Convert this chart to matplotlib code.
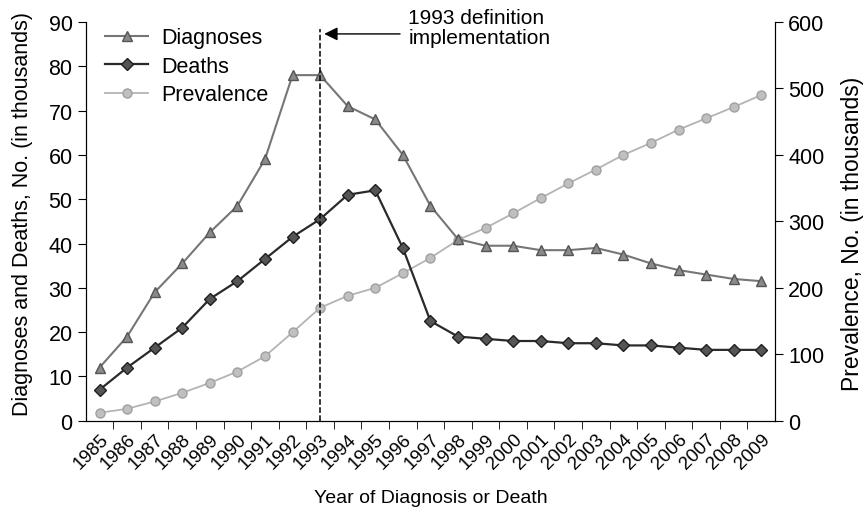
import matplotlib
matplotlib.use("Agg")
import matplotlib.pyplot as plt
from matplotlib.transforms import ScaledTranslation

plt.rcParams['font.family'] = ['Liberation Sans', 'DejaVu Sans']

years = list(range(1985, 2010))
diagnoses = [12, 19, 29, 35.5, 42.5, 48.5, 59, 78, 78, 71, 68, 60, 48.5, 41,
             39.5, 39.5, 38.5, 38.5, 39, 37.5, 35.5, 34, 33, 32, 31.5]
deaths = [7, 12, 16.5, 21, 27.5, 31.5, 36.5, 41.5, 45.5, 51, 52, 39, 22.5, 19,
          18.5, 18, 18, 17.5, 17.5, 17, 17, 16.5, 16, 16, 16]
prevalence = [12, 18, 29, 42, 57, 74, 97, 133, 170, 188, 200, 222, 245, 272,
              290, 312, 335, 357, 378, 400, 418, 438, 455, 472, 490]

fig = plt.figure(figsize=(8.66, 5.10), dpi=100)
ax = fig.add_axes([0.099, 0.173, 0.796, 0.782])
ax2 = ax.twinx()

# prevalence on the right axis, drawn behind
l3, = ax2.plot(years, prevalence, '-o', color='#b4b4b4', markersize=6.5,
               markerfacecolor='#c0c0c0', markeredgecolor='#a0a0a0', lw=1.3,
               label='Prevalence')
l1, = ax.plot(years, diagnoses, '-^', color='#767676', markersize=7.5,
              markerfacecolor='#8a8a8a', markeredgecolor='#555555', lw=1.5,
              label='Diagnoses')
l2, = ax.plot(years, deaths, '-D', color='#2a2a2a', markersize=6,
              markerfacecolor='#555555', markeredgecolor='#202020', lw=1.6,
              label='Deaths')
ax.set_zorder(ax2.get_zorder() + 1)
ax.patch.set_visible(False)

ax.set_xlim(1984.5, 2009.5)
ax.set_ylim(0, 90)
ax2.set_ylim(0, 600)
ax.set_yticks(range(0, 91, 10))
ax2.set_yticks(range(0, 601, 100))

ax.set_xticks(years)
ax.set_xticklabels([str(y) for y in years], rotation=45, ha='right',
                   rotation_mode='anchor', fontsize=13.5)
shift = ScaledTranslation(-6 / 100, 0, fig.dpi_scale_trans)
for lab in ax.get_xticklabels():
    lab.set_transform(lab.get_transform() + shift)
ax.set_xticks([y + 0.5 for y in years[:-1]], minor=True)
ax.tick_params(axis='x', which='major', length=0, pad=7)
ax.tick_params(axis='x', which='minor', length=6, direction='out')
ax.tick_params(axis='y', labelsize=15.5, length=6)
ax2.tick_params(axis='y', labelsize=15.5, length=6)

for a in (ax, ax2):
    a.spines['top'].set_visible(False)

ax.set_xlabel('Year of Diagnosis or Death', fontsize=14, labelpad=12)
ax.set_ylabel('Diagnoses and Deaths, No. (in thousands)', fontsize=15.5)
ax.yaxis.set_label_coords(-0.077, 0.52)
ax2.set_ylabel('Prevalence, No. (in thousands)', fontsize=16.5)
ax2.yaxis.set_label_coords(1.096, 0.47)

# 1993 definition line and note
ax.plot([1993, 1993], [0, 88.5], '--', color='black', lw=1.1)
ax.annotate('', xy=(1993.05, 87.3), xytext=(1996.0, 87.3),
            arrowprops=dict(arrowstyle='-|>', color='black', lw=1,
                            mutation_scale=20))
ax.text(1996.2, 93.2, '1993 definition\nimplementation', fontsize=15,
        va='top', ha='left', linespacing=1.05, clip_on=False)

ax.legend(handles=[l1, l2, l3], loc='upper left', frameon=False,
          fontsize=15.5, bbox_to_anchor=(0.0, 1.035), handlelength=2.0,
          labelspacing=0.35, handletextpad=0.6)

fig.savefig('out.png', dpi=100)
